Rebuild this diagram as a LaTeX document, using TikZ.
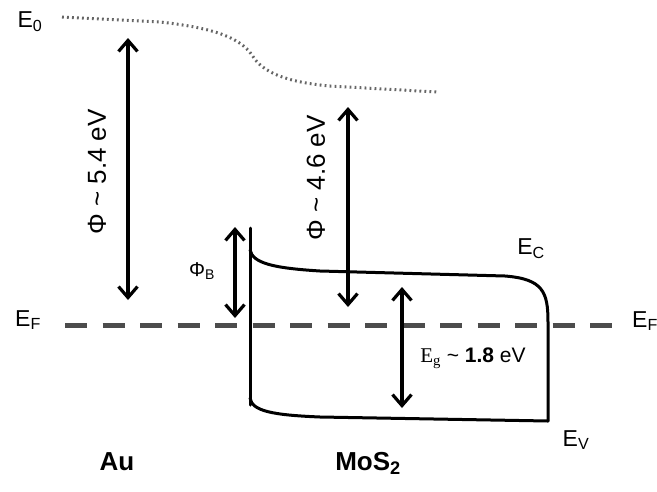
\documentclass[tikz,border=0pt]{standalone}
\usepackage{fontspec}
\setmainfont{Liberation Sans}
\newfontfamily\egfont{Liberation Serif}
\usetikzlibrary{arrows.meta}

\begin{document}
\begin{tikzpicture}[x=1pt, y=-1pt, font=\fontsize{23}{27}\selectfont]
      \tikzset{band line/.style={line width=3pt, line join=round, line cap=round},
        double arrow/.style={line width=3.2pt, {Straight Barb[length=11pt,width=19pt]}-{Straight Barb[length=11pt,width=19pt]}},
        vacuum level/.style={black!60, line width=3pt, dash pattern=on 1.8pt off 3.2pt},
        fermi level/.style={black!70, line width=5pt, dash pattern=on 22pt off 15.5pt},
        small label/.style={font=\fontsize{20}{24}\selectfont}}
      \useasboundingbox (0,0) rectangle (657,491);

      % Vacuum level
      \draw[vacuum level] (62,17) -- (160,22) .. controls (215,28) and (240,38) .. (252,55)
        .. controls (262,72) and (285,82) .. (330,86) -- (437,92);
      \node (e0) at (30,22) {E\textsubscript{0}};

      % Fermi level
      \draw[fermi level] (65,325) -- (615,325);
      \node (efL) at (28,320) {E\textsubscript{F}};
      \node[anchor=west, inner sep=0pt] (efR) at (632,321) {E\textsubscript{F}};

      % MoS2 bands
      \draw[band line] (250,405) -- (250,228);
      \draw[band line] (250,250) .. controls (253,263) and (272,268) .. (320,271)
        -- (505,276) .. controls (543,279) and (548,292) .. (548,322) -- (548,421);
      \draw[band line] (250,398) .. controls (252,411) and (272,415) .. (320,417) -- (548,421);
      \node (ec) at (531,249) {E\textsubscript{C}};
      \node (ev) at (576,440) {E\textsubscript{V}};

      % Work function of Au
      \coordinate (auTop) at (128,38);
      \coordinate (auBot) at (128,300);
      \draw[double arrow] (auTop) -- (auBot);
      \node[rotate=90, font=\fontsize{26}{30}\selectfont] (phiAu) at (97,172) {Φ \textasciitilde{} 5.4 eV};

      % Schottky barrier
      \coordinate (barTop) at (235,227);
      \coordinate (barBot) at (235,318);
      \draw[double arrow] (barTop) -- (barBot);
      \node[small label] (phiB) at (202,271) {Φ\textsubscript{B}};

      % Work function of MoS2
      \coordinate (msTop) at (348,107);
      \coordinate (msBot) at (348,307);
      \draw[double arrow] (msTop) -- (msBot);
      \node[rotate=90, font=\fontsize{26}{30}\selectfont] (phiMs) at (316,178) {Φ \textasciitilde{} 4.6 eV};

      % Band gap
      \coordinate (gapTop) at (402,287);
      \coordinate (gapBot) at (402,408);
      \draw[double arrow] (gapTop) -- (gapBot);
      \node[font=\fontsize{21}{25}\selectfont] (eg) at (473,358) {{\egfont E\textsubscript{g}} \textasciitilde{} \textbf{1.8} eV};

      % Materials
      \node[font=\fontsize{26}{30}\selectfont\bfseries] (au) at (117,462) {Au};
      \node[font=\fontsize{26}{30}\selectfont\bfseries] (mos2) at (368,463) {MoS\textsubscript{2}};
\end{tikzpicture}
\end{document}
